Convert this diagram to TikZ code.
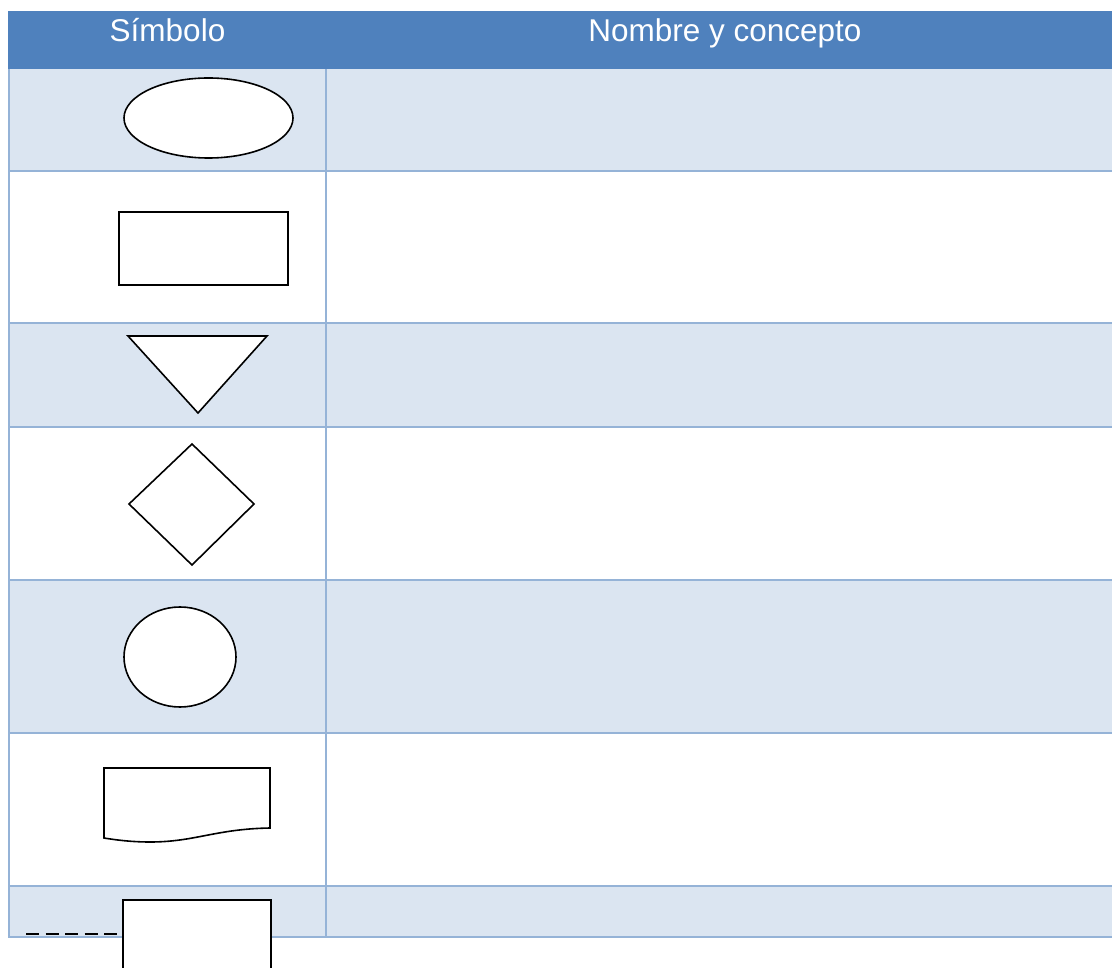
\documentclass[tikz,border=0pt]{standalone}
\usepackage{fontspec}
\setmainfont{Liberation Sans}
\usetikzlibrary{positioning}
\definecolor{headblue}{RGB}{79,129,189}
\definecolor{rowblue}{RGB}{219,229,241}
\definecolor{gridblue}{RGB}{149,179,215}

\begin{document}
\begin{tikzpicture}[
  x=1pt, y=-1pt,
  header/.style={
    text=white,
    anchor=base,
    inner sep=0pt,
    font=\fontsize{31.5}{36}\selectfont
  },
  blue row/.style={
    fill=rowblue
  },
  grid line/.style={
    draw=gridblue,
    line width=2pt
  },
  symbol/.style={
    draw=black,
    fill=white,
    line width=1.6pt,
    line join=miter
  },
  link line/.style={
    draw=black,
    line width=1.6pt,
    dash pattern=on 13pt off 6.5pt
  }
]

\clip (0,0) rectangle (1112,968);
\fill[white] (0,0) rectangle (1112,968);

% header and shaded rows
\fill[headblue] (8,11) rectangle (1112,69);
\fill[blue row] (9,69) rectangle (1112,171);
\fill[blue row] (9,323) rectangle (1112,427);
\fill[blue row] (9,580) rectangle (1112,733);
\fill[blue row] (9,886) rectangle (1112,937);

\node (hsym) [header] at (167.5,42) {Símbolo};
\node (hname) [header] at (725,42) {Nombre y concepto};

% grid
\foreach \y in {171,323,427,580,733,886,937}
  \draw[grid line] (9,\y) -- (1112,\y);
\draw[grid line] (9,69) -- (9,938);
\draw[grid line] (325.5,69) -- (325.5,938);

% symbols
\draw[symbol] (208.5,118) ellipse [x radius=84.5pt, y radius=40pt];
\draw[symbol] (119,212) rectangle (288,285);
\draw[symbol] (128,336) -- (267,336) -- (198,413) -- cycle;
\draw[symbol] (192,444) -- (254,504) -- (192,565) -- (129,504) -- cycle;
\draw[symbol] (180,657) ellipse [x radius=56pt, y radius=50pt];
\draw[symbol] (104,768) -- (270,768) -- (270,828)
  .. controls (215,829) and (195,842) .. (150,842)
  .. controls (132,842) and (116,840) .. (104,838) -- cycle;

\node (conn) [symbol, draw, inner sep=0pt, anchor=north west,
  minimum width=148pt, minimum height=110pt] at (122,899) {};
\coordinate (dashstart) at (26,934);
\draw[link line] (dashstart) -- (dashstart -| conn.west);

\end{tikzpicture}
\end{document}
